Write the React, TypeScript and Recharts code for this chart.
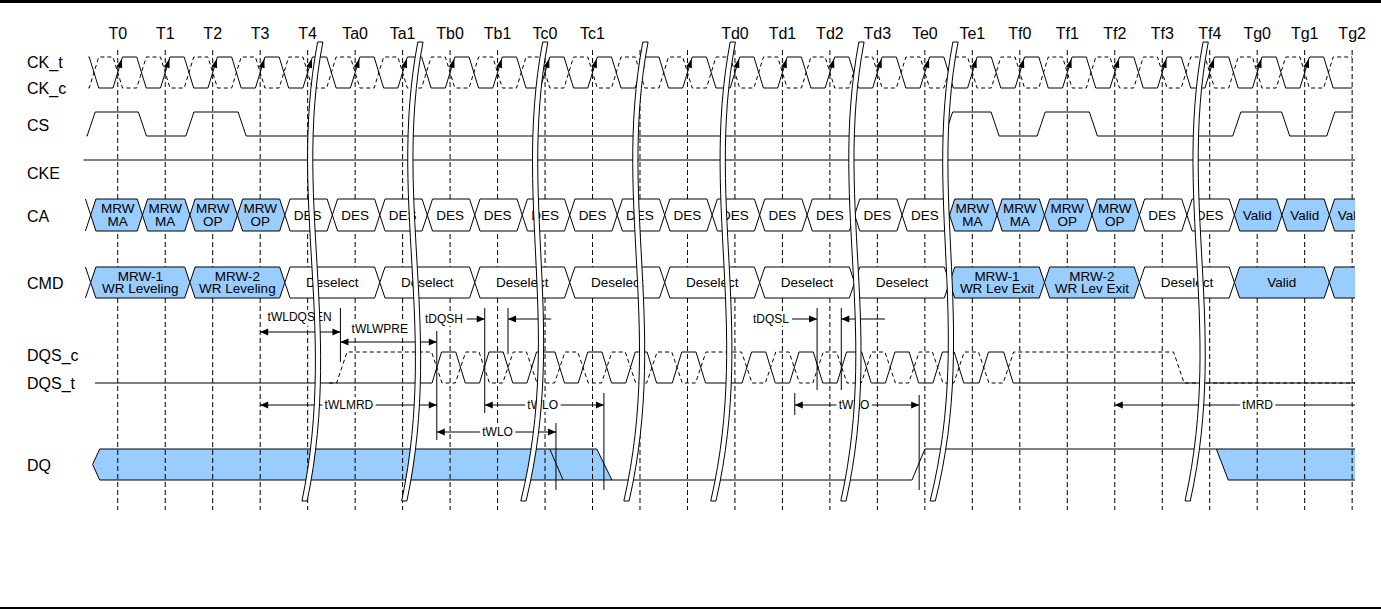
import React from 'react';
import { ComposedChart, Line, Area, Scatter, XAxis, YAxis } from 'recharts';

const FONT = '"Liberation Sans", Arial, Helvetica, sans-serif';
const BLUE = '#99ccff';

// clock edges along the top (one rising CK_t edge per tick)
const TIME_LABELS = ['T0', 'T1', 'T2', 'T3', 'T4', 'Ta0', 'Ta1', 'Tb0', 'Tb1', 'Tc0', 'Tc1', '', '', 'Td0', 'Td1', 'Td2', 'Td3', 'Te0', 'Te1', 'Tf0', 'Tf1', 'Tf2', 'Tf3', 'Tf4', 'Tg0', 'Tg1', 'Tg2'];
const SIGNAL_NAMES = ['CK_t', 'CK_c', 'CS', 'CKE', 'CA', 'CMD', 'DQS_c', 'DQS_t', 'DQ'];

// edge centres in clock periods (t=0 is T0)
const CS_EDGES = [-0.56, 0.52, 1.52, 2.62, 17.5, 18.48, 19.45, 20.55, 23.57, 24.6, 25.55];
const DQS_T_EDGES = [6.72, 7.22, 7.72, 8.22, 8.72, 9.31, 9.8, 10.3, 10.8, 11.25, 11.78, 12.28, 13.25, 13.75, 14.25, 14.75, 15.25, 15.77, 16.27, 16.77, 17.27, 17.72, 18.24, 18.76];
const DQS_C_EDGES = [4.72, ...DQS_T_EDGES, 22.35];

// CA bus, one command per clock
const CA_BOUNDS = [-0.57, 0.52, 1.52, 2.52, 3.52, 4.52, 5.52, 6.52, 7.52, 8.52, 9.52, 10.52, 11.52, 12.52, 13.52, 14.52, 15.52, 16.52, 17.52, 18.52, 19.52, 20.52, 21.52, 22.52, 23.52, 24.52, 25.52, 26.06];
const CA_CELLS = ['MRW\nMA', 'MRW\nMA', 'MRW\nOP', 'MRW\nOP', 'DES', 'DES', 'DES', 'DES', 'DES', 'DES', 'DES', 'DES', 'DES', 'DES', 'DES', 'DES', 'DES', 'DES', 'MRW\nMA', 'MRW\nMA', 'MRW\nOP', 'MRW\nOP', 'DES', 'DES', 'Valid', 'Valid', 'Valid'];

// CMD bus, two clocks per command
const CMD_BOUNDS = [-0.57, 1.52, 3.52, 5.52, 7.52, 9.52, 11.52, 13.52, 15.52, 17.52, 19.52, 21.52, 23.52, 25.52, 26.06];
const CMD_CELLS = ['MRW-1\nWR Leveling', 'MRW-2\nWR Leveling', 'Deselect', 'Deselect', 'Deselect', 'Deselect', 'Deselect', 'Deselect', 'Deselect', 'MRW-1\nWR Lev Exit', 'MRW-2\nWR Lev Exit', 'Deselect', 'Valid', ''];

// DQ: [t, bottom level, top level] for driven regions, [t, level] for the line
const DQ_BURST_1 = [[-0.53, 0.5, 0.5], [-0.38, 0, 1], [10.09, 0, 1], [10.41, 0, 0]];
const DQ_BURST_2 = [[23.14, 1, 1], [23.39, 0, 1], [26.06, 0, 1]];
const DQ_LINE = [[10.41, 0], [16.73, 0], [17.0, 1], [23.14, 1]];
const DQ_SKEW = [[9.1, 1], [9.38, 0]];

// time breaks: [t at top, t at bottom]
const BREAKS = [[4.21, 3.88], [6.32, 5.98], [8.95, 8.49], [11.06, 10.66], [12.9, 12.49], [15.61, 15.23], [17.59, 17.11], [22.86, 22.48]];

// timing parameters
const LANE = { q: 319, en: 332, enText: 317, pre: 342, preText: 329, mrd: 405, wlo: 432 };
const SPANS = [
  { from: 3, to: 4.69, lane: 'en', heads: 'both' },
  { from: 4.69, to: 6.72, lane: 'pre', heads: 'both' },
  { from: 7.35, to: 7.73, lane: 'q', heads: 'end' },
  { from: 8.22, to: 9.13, lane: 'q', heads: 'start' },
  { from: 14.2, to: 14.73, lane: 'q', heads: 'end' },
  { from: 15.24, to: 16.16, lane: 'q', heads: 'start' },
  { from: 3, to: 6.72, lane: 'mrd', heads: 'both' },
  { from: 7.73, to: 10.24, lane: 'mrd', heads: 'both' },
  { from: 6.72, to: 9.23, lane: 'wlo', heads: 'both' },
  { from: 14.26, to: 16.88, lane: 'mrd', heads: 'both' },
  { from: 21.0, to: 26.06, lane: 'mrd', heads: 'start' },
];
const SPAN_LABELS = [
  { text: 'tWLDQSEN', at: 3.83, lane: 'enText' },
  { text: 'tWLWPRE', at: 5.52, lane: 'preText' },
  { text: 'tDQSH', at: 6.87, lane: 'q' },
  { text: 'tDQSL', at: 13.76, lane: 'q' },
  { text: 'tWLMRD', at: 4.87, lane: 'mrd' },
  { text: 'tWLO', at: 8.95, lane: 'mrd' },
  { text: 'tWLO', at: 8.0, lane: 'wlo' },
  { text: 'tWLO', at: 15.51, lane: 'mrd' },
  { text: 'tMRD', at: 24.01, lane: 'mrd' },
];
// reference marks: [t, top y, bottom y]
const MARKS = [[4.69, 308, 362], [6.72, 331, 440], [7.73, 308, 413], [8.22, 308, 354], [14.73, 308, 390], [15.24, 308, 390], [10.24, 393, 490], [9.23, 423, 490], [14.26, 393, 415], [16.88, 395, 490]];

// ---- layout ----
const ROW = {
  CK: { hi: 57, lo: 88 },
  CS: { hi: 112, lo: 136 },
  CKE: { hi: 160, lo: 160 },
  CA: { hi: 199, lo: 231 },
  CMD: { hi: 267, lo: 298 },
  DQS: { hi: 352, lo: 383 },
  DQ: { hi: 449, lo: 480 },
};
const LABEL_Y = [62, 88, 125, 173, 216, 283, 355, 383, 465];
const TIME_Y = 33;
const GRID_TOP = 50;
const GRID_BOTTOM = 510;
const BREAK_TOP = 42;
const BREAK_BOTTOM = 501;
const SLANT = 0.11;

const lv = (row: any, level: number) => row.lo + (row.hi - row.lo) * level;

function toggles(row: any, start: number, end: number, init: number, edges: number[], half: number) {
  let level = init;
  const pts = [{ x: start, y: lv(row, level) }];
  edges.forEach((e) => {
    pts.push({ x: e - half, y: lv(row, level) });
    level = 1 - level;
    pts.push({ x: e + half, y: lv(row, level) });
  });
  pts.push({ x: end, y: lv(row, level) });
  return pts;
}

function busCells(bounds: number[], labels: string[], row: any) {
  const mid = (row.hi + row.lo) / 2;
  return labels.map((label, i) => {
    const s = bounds[i];
    const f = bounds[i + 1];
    const data = [{ x: s, r: [mid, mid] }, { x: s + SLANT, r: [row.lo, row.hi] }];
    if (i === labels.length - 1) data.push({ x: f, r: [row.lo, row.hi] });
    else data.push({ x: f - SLANT, r: [row.lo, row.hi] }, { x: f, r: [mid, mid] });
    const blue = label !== 'DES' && label !== 'Deselect';
    return { label, data, blue, s, f };
  });
}

function leadIn(start: number, row: any) {
  const mid = (row.hi + row.lo) / 2;
  return [{ x: start - SLANT, r: [row.lo, row.hi] }, { x: start, r: [mid, mid] }];
}

function breakCurve(top: number, bottom: number, off: number) {
  const pts = [];
  const p = [
    [top, BREAK_TOP],
    [top - 0.63, 200],
    [top + 0.42, 330],
    [bottom, BREAK_BOTTOM],
  ];
  for (let i = 0; i <= 30; i++) {
    const u = i / 30;
    const b = [(1 - u) ** 3, 3 * (1 - u) ** 2 * u, 3 * (1 - u) * u * u, u ** 3];
    pts.push({
      x: b.reduce((a, w, k) => a + w * p[k][0], 0) + off,
      y: b.reduce((a, w, k) => a + w * p[k][1], 0),
    });
  }
  return pts;
}

const BW = 0.11;

// ---- derived series ----
const TICKS = TIME_LABELS.map((_, i) => i);
const CK_EDGES = [-0.5, ...TICKS.slice(0, -1).flatMap((i) => [i, i + 0.5])];
const ckT = toggles(ROW.CK, -0.62, 26.0, 1, CK_EDGES, 0.1);
const ckC = toggles(ROW.CK, -0.62, 26.0, 0, CK_EDGES, 0.1);
const cs = toggles(ROW.CS, -0.66, 26.02, 0, CS_EDGES, 0.085);
const cke = [{ x: -0.72, y: ROW.CKE.hi }, { x: 26.06, y: ROW.CKE.hi }];
const dqsT = toggles(ROW.DQS, -0.48, 26.06, 0, DQS_T_EDGES, 0.1);
const dqsC = toggles(ROW.DQS, 4.45, 26.06, 0, DQS_C_EDGES, 0.11);

const caCells = busCells(CA_BOUNDS, CA_CELLS, ROW.CA);
const cmdCells = busCells(CMD_BOUNDS, CMD_CELLS, ROW.CMD);

const dqArea = (pts: number[][]) => pts.map(([x, b, t]) => ({ x, r: [lv(ROW.DQ, b), lv(ROW.DQ, t)] }));
const dqLine = (pts: number[][]) => pts.map(([x, l]) => ({ x, y: lv(ROW.DQ, l) }));

const texts = [
  ...TIME_LABELS.map((l, i) => ({ x: i, y: TIME_Y, text: l, size: 16, anchor: 'middle' })),
  ...SIGNAL_NAMES.map((n, i) => ({ x: -1.91, y: LABEL_Y[i], text: n, size: 16, anchor: 'start' })),
  ...CA_CELLS.map((l, i) => ({
    x: i,
    y: (ROW.CA.hi + ROW.CA.lo) / 2,
    text: l,
    size: 13.5,
    anchor: 'middle',
    cut: i === CA_CELLS.length - 1,
  })),
  ...cmdCells
    .filter((c) => c.label)
    .map((c) => ({ x: (c.s + c.f) / 2, y: (ROW.CMD.hi + ROW.CMD.lo) / 2, text: c.label, size: 13.5, anchor: 'middle' })),
  ...SPAN_LABELS.map((l) => ({ x: l.at, y: (LANE as any)[l.lane], text: l.text, size: 12, anchor: 'middle', halo: true })),
];

const heads = SPANS.flatMap((s) => {
  const y = (LANE as any)[s.lane];
  const out: any[] = [];
  if (s.heads === 'both' || s.heads === 'start') out.push({ x: s.from, y, dir: -1 });
  if (s.heads === 'both' || s.heads === 'end') out.push({ x: s.to, y, dir: 1 });
  return out;
});
const clockArrows = TICKS.slice(0, -1).map((i) => ({ x: i + 0.054, y: lv(ROW.CK, 0.77) }));

// ---- shapes ----
let clipSeq = 0;
const TextShape = (p: any) => {
  const d = p.payload;
  if (!d.text) return <g />;
  const lines = String(d.text).split('\n');
  const lh = 12.5;
  const y0 = p.cy - ((lines.length - 1) * lh) / 2;
  const body = (
    <text
      textAnchor={d.anchor}
      fontSize={d.size}
      fontFamily={FONT}
      fill="#000"
      stroke={d.halo ? '#fff' : 'none'}
      strokeWidth={d.halo ? 6 : 0}
      strokeLinejoin="round"
      paintOrder="stroke"
    >
      {lines.map((l, i) => (
        <tspan key={i} x={p.cx} y={y0 + i * lh} dy="0.35em">
          {l}
        </tspan>
      ))}
    </text>
  );
  if (!d.cut) return body;
  // the last CA cell runs off the frame
  const id = `cutclip${clipSeq++}`;
  return (
    <g>
      <clipPath id={id}>
        <rect x={p.cx - 40} y={p.cy - 20} width={43} height={40} />
      </clipPath>
      <g clipPath={`url(#${id})`}>{body}</g>
    </g>
  );
};

const HeadShape = (p: any) => {
  const { cx, cy } = p;
  const dir = p.payload.dir;
  return <polygon points={`${cx},${cy} ${cx - dir * 8},${cy - 3.5} ${cx - dir * 8},${cy + 3.5}`} fill="#000" />;
};

const ClockArrow = (p: any) => {
  const { cx, cy } = p;
  const ux = 0.29;
  const uy = -0.957;
  const nx = -uy;
  const ny = ux;
  const tip = [cx + ux * 5.5, cy + uy * 5.5];
  const b1 = [cx - ux * 3.5 + nx * 3, cy - uy * 3.5 + ny * 3];
  const b2 = [cx - ux * 3.5 - nx * 3, cy - uy * 3.5 - ny * 3];
  return <polygon points={`${tip[0]},${tip[1]} ${b1[0]},${b1[1]} ${b2[0]},${b2[1]}`} fill="#000" />;
};

const lineProps = {
  type: 'linear' as const,
  dot: false,
  activeDot: false,
  isAnimationActive: false,
  stroke: '#000',
  strokeWidth: 1,
  legendType: 'none' as const,
};

export default function App() {
  return (
    <div style={{ position: 'absolute', left: 0, top: 0, width: 1381, height: 609, background: '#fff' }}>
      <ComposedChart width={1381} height={609} margin={{ top: 0, right: 26, bottom: 0, left: 0 }}>
        <XAxis type="number" dataKey="x" domain={[-2.48, 26.06]} hide />
        <YAxis type="number" dataKey="y" domain={[0, 609]} reversed hide />

        {/* DQ bursts */}
        <Area data={dqArea(DQ_BURST_1)} dataKey="r" {...lineProps} fill={BLUE} fillOpacity={1} zIndex={100} />
        <Area data={dqArea(DQ_BURST_2)} dataKey="r" {...lineProps} fill={BLUE} fillOpacity={1} zIndex={100} />
        <Line data={dqLine(DQ_LINE)} dataKey="y" {...lineProps} zIndex={150} />
        <Line data={dqLine(DQ_SKEW)} dataKey="y" {...lineProps} zIndex={150} />

        {/* clock grid */}
        {TICKS.map((t) => (
          <Line
            key={`g${t}`}
            data={[{ x: t, y: GRID_TOP }, { x: t, y: GRID_BOTTOM }]}
            dataKey="y"
            {...lineProps}
            strokeDasharray="5 3"
            zIndex={200}
          />
        ))}

        {/* CA / CMD buses */}
        <Area data={leadIn(CA_BOUNDS[0], ROW.CA)} dataKey="r" {...lineProps} fill="#fff" fillOpacity={1} zIndex={250} />
        <Area data={leadIn(CMD_BOUNDS[0], ROW.CMD)} dataKey="r" {...lineProps} fill="#fff" fillOpacity={1} zIndex={250} />
        {caCells.map((c, i) => (
          <Area key={`ca${i}`} data={c.data} dataKey="r" {...lineProps} fill={c.blue ? BLUE : '#fff'} fillOpacity={1} zIndex={250} />
        ))}
        {cmdCells.map((c, i) => (
          <Area key={`cmd${i}`} data={c.data} dataKey="r" {...lineProps} fill={c.blue ? BLUE : '#fff'} fillOpacity={1} zIndex={250} />
        ))}

        {/* waveforms */}
        <Line data={ckC} dataKey="y" {...lineProps} strokeDasharray="4 3" zIndex={300} />
        <Line data={ckT} dataKey="y" {...lineProps} zIndex={300} />
        <Line data={cs} dataKey="y" {...lineProps} zIndex={300} />
        <Line data={cke} dataKey="y" {...lineProps} zIndex={300} />
        <Line data={dqsC} dataKey="y" {...lineProps} strokeDasharray="4 3" zIndex={300} />
        <Line data={dqsT} dataKey="y" {...lineProps} zIndex={300} />

        {/* timing annotations */}
        {SPANS.map((s, i) => (
          <Line
            key={`s${i}`}
            data={[{ x: s.from, y: (LANE as any)[s.lane] }, { x: s.to, y: (LANE as any)[s.lane] }]}
            dataKey="y"
            {...lineProps}
            zIndex={350}
          />
        ))}
        {MARKS.map(([t, a, b], i) => (
          <Line key={`m${i}`} data={[{ x: t, y: a }, { x: t, y: b }]} dataKey="y" {...lineProps} zIndex={350} />
        ))}

        <Scatter data={texts} shape={TextShape} isAnimationActive={false} legendType="none" zIndex={400} />
        <Scatter data={heads} shape={HeadShape} isAnimationActive={false} legendType="none" zIndex={450} />
        <Scatter data={clockArrows} shape={ClockArrow} isAnimationActive={false} legendType="none" zIndex={450} />

        {/* time breaks */}
        {BREAKS.map(([a, b], i) => (
          <Line key={`bw${i}`} data={breakCurve(a, b, BW / 2)} dataKey="y" {...lineProps} stroke="#fff" strokeWidth={5} zIndex={500} />
        ))}
        {BREAKS.map(([a, b], i) => {
          const left = breakCurve(a, b, 0);
          const right = breakCurve(a, b, BW).reverse();
          return <Line key={`bo${i}`} data={[...left, ...right, left[0]]} dataKey="y" {...lineProps} zIndex={510} />;
        })}
      </ComposedChart>
      <div style={{ position: 'absolute', left: 0, top: 0, width: 1381, height: 2.5, background: '#000' }} />
      <div style={{ position: 'absolute', left: 0, top: 606.5, width: 1381, height: 2.5, background: '#000' }} />
    </div>
  );
}
